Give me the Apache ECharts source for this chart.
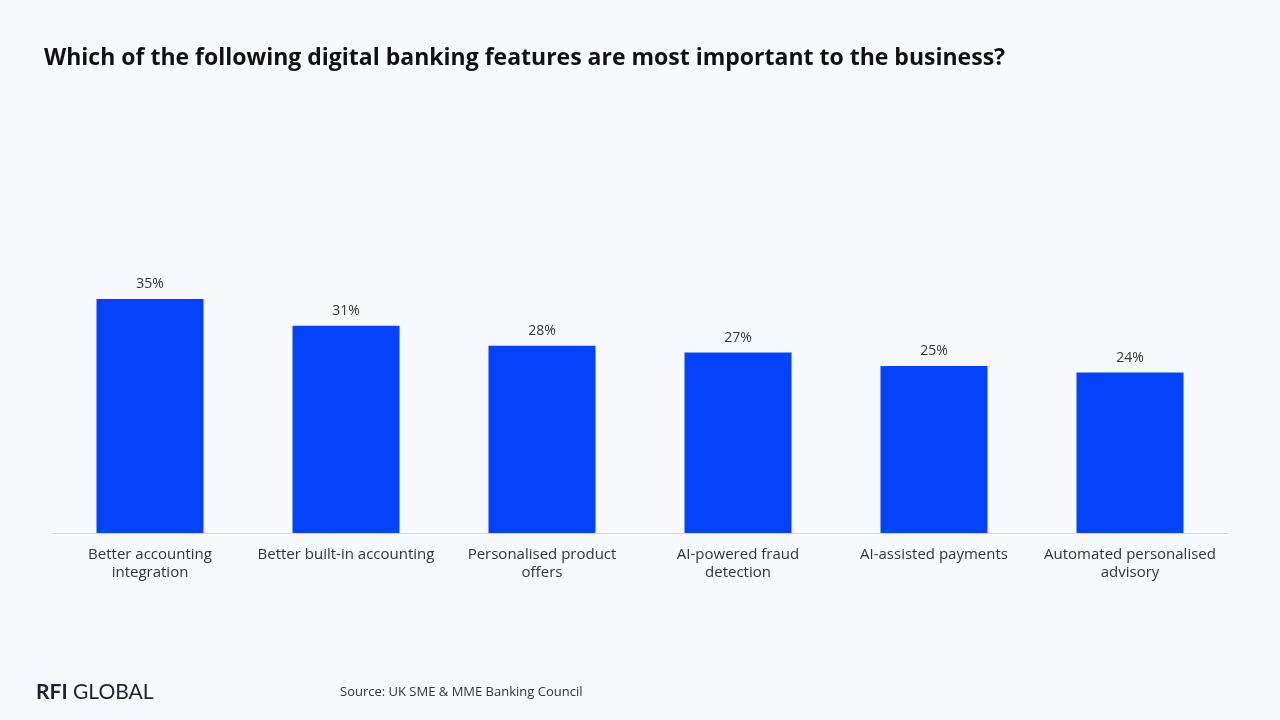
<!DOCTYPE html>
<html>
<head>
<meta charset="utf-8">
<script src="https://cdn.jsdelivr.net/npm/echarts@6/dist/echarts.min.js"></script>
<style>
  html, body { margin: 0; padding: 0; background: #f7f9fd; }
  #chart { width: 1280px; height: 720px; }
</style>
</head>
<body>
<div id="chart"></div>
<script>
// 数据
var categories = ['Better accounting\nintegration', 'Better built-in accounting', 'Personalised product\noffers', 'AI-powered fraud\ndetection', 'AI-assisted payments', 'Automated personalised\nadvisory'];
var values = [35, 31, 28, 27, 25, 24];

(function() {
  var myChart = echarts.init(document.getElementById('chart'));
  var option = {
    backgroundColor: '#f7f9fd',
    textStyle: { fontFamily: 'Lato' },
    title: [
      {
        text: 'Which of the following digital banking features are most important to the business?',
        left: 39, top: 42,
        textStyle: { fontSize: 23, fontWeight: 'bold', color: '#111111', fontFamily: 'Open Sans' }
      },
      {
        text: '{b|RFI} GLOBAL',
        left: 31, top: 677,
        textStyle: {
          fontSize: 21, fontWeight: 'normal', color: '#1a2233', fontFamily: 'Lato',
          rich: { b: { fontSize: 21, fontWeight: 'bold', color: '#1a2233', fontFamily: 'Lato' } }
        }
      },
      {
        text: 'Source: UK SME & MME Banking Council',
        left: 335, top: 681,
        textStyle: { fontSize: 13, fontWeight: 'normal', color: '#333333', fontFamily: 'Open Sans' }
      }
    ],
    grid: { left: 52, right: 52, top: 132, bottom: 187 },
    xAxis: {
      type: 'category',
      data: categories,
      axisTick: { show: false },
      axisLine: { lineStyle: { color: '#d4d8e0' } },
      axisLabel: { color: '#333333', fontSize: 15, lineHeight: 18, margin: 13, interval: 0, fontFamily: 'Open Sans' }
    },
    yAxis: {
      type: 'value', min: 0, max: 60, show: false
    },
    series: [{
      type: 'bar',
      data: values,
      barWidth: 107,
      itemStyle: { color: '#0443fa' },
      label: {
        show: true, position: 'top', distance: 8,
        formatter: '{c}%', color: '#333333', fontSize: 14, fontFamily: 'Open Sans'
      }
    }]
  };
  myChart.setOption(option);
})();
</script>
</body>
</html>
